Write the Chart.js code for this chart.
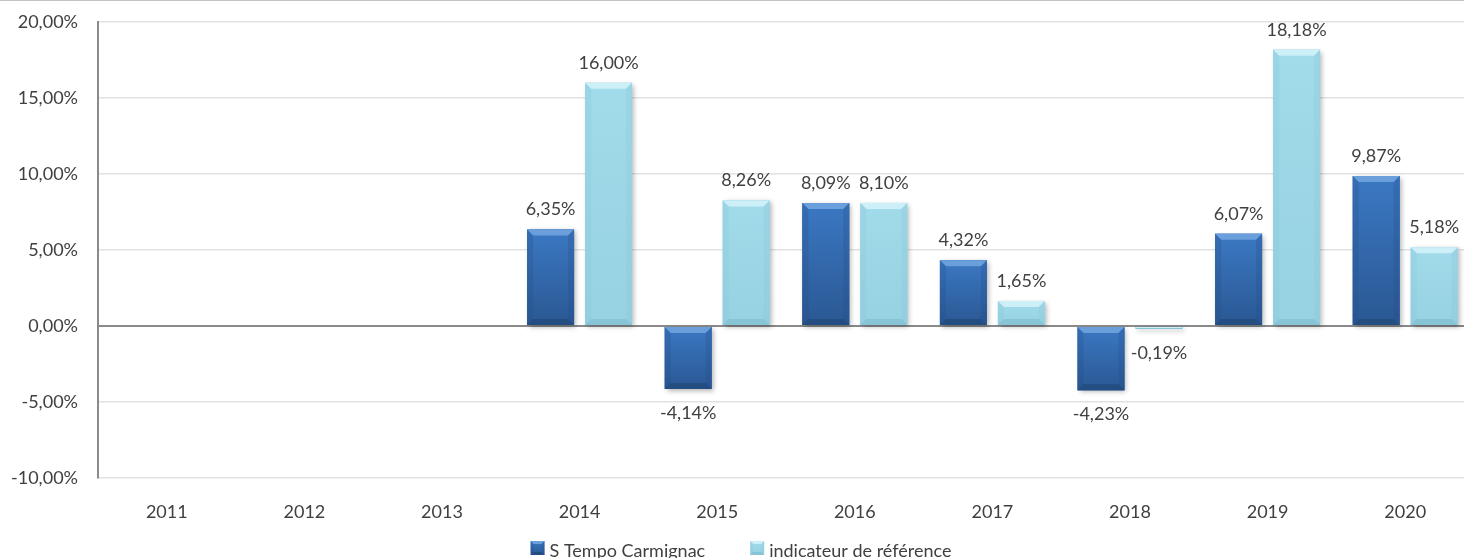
<!DOCTYPE html>
<html>
<head>
<meta charset="utf-8">
<script src="https://cdn.jsdelivr.net/npm/chart.js@4.4.0/dist/chart.umd.min.js"></script>
<style>
    html, body { margin: 0; padding: 0; background: #fff; overflow: hidden; }
    .chart-box { width: 1474px; height: 566px; border-top: 1px solid #c3c3c3; }
</style>
</head>
<body>
<div class="chart-box"><canvas id="barChart" width="1474" height="566"></canvas></div>
<script>
// data
var years = ['2011', '2012', '2013', '2014', '2015', '2016', '2017', '2018', '2019', '2020'];
var fundValues = [null, null, null, 6.35, -4.14, 8.09, 4.32, -4.23, 6.07, 9.87];
var indexValues = [null, null, null, 16.00, 8.26, 8.10, 1.65, -0.19, 18.18, 5.18];
var seriesNames = ['S Tempo Carmignac', 'indicateur de référence'];
var yMin = -10, yMax = 20, yStep = 5;

var textColor = '#404040';
var fontFamily = 'Lato, "Open Sans", sans-serif';

function pct(v) {
    return v.toFixed(2).replace('.', ',') + '%';
}

// colours for the bevelled bars: [top edge, body top, body bottom, bottom edge]
var shades = [
    ['#6a9fdc', '#3b78c3', '#2a5893', '#244d82'],
    ['#cdeff8', '#a2dbea', '#96d2e2', '#86c4d6']
];

// draws a bevelled box (bars and legend squares)
function bevelBox(ctx, c, left, top, right, bottom, b) {
    var h = bottom - top;
    var g = ctx.createLinearGradient(0, top, 0, bottom);
    g.addColorStop(0, c[1]);
    g.addColorStop(1, c[2]);
    ctx.fillStyle = g;
    ctx.fillRect(left, top, right - left, h);

    ctx.fillStyle = c[0];
    ctx.beginPath();
    ctx.moveTo(left, top); ctx.lineTo(right, top);
    ctx.lineTo(right - b, top + b); ctx.lineTo(left + b, top + b);
    ctx.closePath(); ctx.fill();

    ctx.fillStyle = c[3];
    ctx.beginPath();
    ctx.moveTo(left, bottom); ctx.lineTo(right, bottom);
    ctx.lineTo(right - b, bottom - b); ctx.lineTo(left + b, bottom - b);
    ctx.closePath(); ctx.fill();

    ctx.globalAlpha = 0.25;
    ctx.fillStyle = c[3];
    ctx.beginPath();
    ctx.moveTo(left, top); ctx.lineTo(left + b, top + b);
    ctx.lineTo(left + b, bottom - b); ctx.lineTo(left, bottom);
    ctx.closePath(); ctx.fill();
    ctx.beginPath();
    ctx.moveTo(right, top); ctx.lineTo(right - b, top + b);
    ctx.lineTo(right - b, bottom - b); ctx.lineTo(right, bottom);
    ctx.closePath(); ctx.fill();
    ctx.globalAlpha = 1;
}

// drop shadow under the bars
var shadowPlugin = {
    id: 'shadow',
    beforeDatasetDraw: function (chart) {
        var ctx = chart.ctx;
        ctx.save();
        ctx.shadowColor = 'rgba(0,0,0,0.3)';
        ctx.shadowBlur = 5;
        ctx.shadowOffsetX = 2;
        ctx.shadowOffsetY = 2;
    },
    afterDatasetDraw: function (chart) {
        chart.ctx.restore();
    }
};

// bevel on top of each bar, then value labels
var bevelPlugin = {
    id: 'bevel',
    afterDatasetsDraw: function (chart) {
        var ctx = chart.ctx;
        chart.data.datasets.forEach(function (ds, di) {
            var meta = chart.getDatasetMeta(di);
            meta.data.forEach(function (bar, i) {
                var v = ds.data[i];
                if (v === null) return;
                var left = bar.x - bar.width / 2;
                var right = bar.x + bar.width / 2;
                var top = Math.min(bar.y, bar.base);
                var bottom = Math.max(bar.y, bar.base);

                ctx.save();
                bevelBox(ctx, shades[di], left, top, right, bottom, Math.min(6, (bottom - top) / 2));
                ctx.restore();

                // value label
                ctx.save();
                ctx.font = '18px ' + fontFamily;
                ctx.fillStyle = textColor;
                ctx.textAlign = 'center';
                ctx.textBaseline = 'alphabetic';
                var ly = v >= 0 ? top - 14 : bottom + 30;
                ctx.fillText(pct(v), bar.x, ly);
                ctx.restore();
            });
        });
    }
};

// legend at the bottom, half cut off like in the original
var legendPlugin = {
    id: 'bottomLegend',
    afterDraw: function (chart) {
        var ctx = chart.ctx;
        ctx.save();
        ctx.font = '18px ' + fontFamily;
        var box = 14, gap = 5, itemGap = 45;
        var widths = seriesNames.map(function (n) { return box + gap + ctx.measureText(n).width; });
        var total = widths[0] + widths[1] + itemGap;
        var x = chart.width / 2 + 4 - total / 2;
        var baseline = 556;
        seriesNames.forEach(function (name, i) {
            bevelBox(ctx, shades[i], x, baseline - 16, x + box, baseline - 2, 3);
            ctx.fillStyle = textColor;
            ctx.textAlign = 'left';
            ctx.textBaseline = 'alphabetic';
            ctx.fillText(name, x + box + gap, baseline);
            x += widths[i] + itemGap;
        });
        ctx.restore();
    }
};

var canvas = document.getElementById('barChart');
new Chart(canvas, {
    type: 'bar',
    data: {
        labels: years,
        datasets: [{
            label: seriesNames[0],
            data: fundValues,
            backgroundColor: '#3468ad',
            borderWidth: 0
        }, {
            label: seriesNames[1],
            data: indexValues,
            backgroundColor: '#9dd8e8',
            borderWidth: 0
        }]
    },
    plugins: [shadowPlugin, bevelPlugin, legendPlugin],
    options: {
        responsive: false,
        animation: false,
        categoryPercentage: 0.843,
        barPercentage: 0.81,
        layout: {
            padding: { left: 0, top: 21, right: 0, bottom: 36 }
        },
        plugins: {
            tooltip: { enabled: false },
            legend: { display: false }
        },
        scales: {
            x: {
                grid: { display: false },
                border: { display: false },
                ticks: {
                    color: textColor,
                    font: { family: fontFamily, size: 18 },
                    padding: 15
                },
                afterFit: function (scale) { scale.height = 53; }
            },
            y: {
                min: yMin,
                max: yMax,
                ticks: {
                    stepSize: yStep,
                    color: textColor,
                    font: { family: fontFamily, size: 18 },
                    padding: 20,
                    callback: function (v) { return pct(v); }
                },
                grid: {
                    drawTicks: false,
                    color: function (ctx) { return ctx.tick && ctx.tick.value === 0 ? '#8a8a8a' : '#e2e2e2'; },
                    lineWidth: function (ctx) { return ctx.tick && ctx.tick.value === 0 ? 2 : 1.5; }
                },
                border: { display: true, color: '#8a8a8a', width: 2 },
                afterFit: function (scale) {
                    scale.width = 98;
                    scale.paddingTop = 0;
                    scale.paddingBottom = 0;
                }
            }
        }
    }
});
</script>
</body>
</html>
